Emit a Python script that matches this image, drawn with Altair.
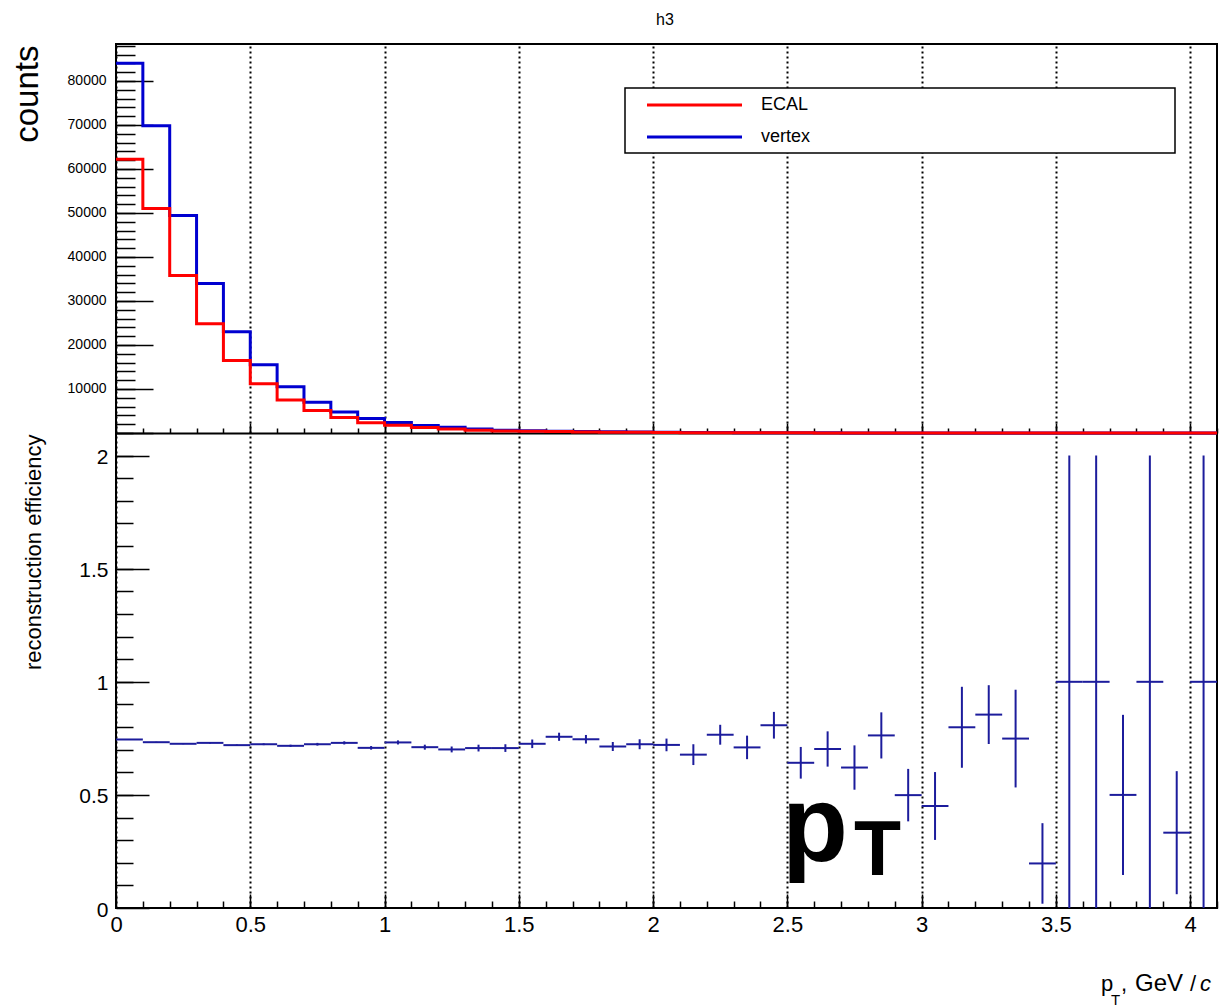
import altair as alt
import pandas as pd

# ---------------- data ----------------
pt_edges = [0.0, 0.1, 0.2, 0.3, 0.4, 0.5, 0.6, 0.7, 0.8, 0.9,
            1.0, 1.1, 1.2, 1.3, 1.4, 1.5, 1.6, 1.7, 1.8, 1.9,
            2.0, 2.1, 2.2, 2.3, 2.4, 2.5, 2.6, 2.7, 2.8, 2.9,
            3.0, 3.1, 3.2, 3.3, 3.4, 3.5, 3.6, 3.7, 3.8, 3.9,
            4.0, 4.1]

counts_vertex = [84000, 69800, 49400, 34000, 23000, 15500, 10500, 7000, 4800, 3300,
                 2400, 1730, 1280, 900, 650, 520, 420, 330, 260, 200,
                 160, 110, 93, 76, 58, 47, 34, 24, 17, 18,
                 11, 5, 7, 4, 5, 1, 1, 2, 1, 3,
                 1]

counts_ecal = [62200, 51000, 35800, 24800, 16500, 11200, 7500, 5100, 3500, 2350,
               1750, 1230, 900, 640, 460, 380, 320, 250, 185, 145,
               115, 75, 71, 54, 47, 30, 24, 15, 13, 9,
               5, 4, 6, 3, 1, 1, 1, 1, 1, 1,
               1]

efficiency = [0.745, 0.733, 0.726, 0.730, 0.720, 0.724, 0.717, 0.724, 0.730, 0.708,
              0.732, 0.711, 0.701, 0.707, 0.707, 0.726, 0.757, 0.746, 0.714, 0.724,
              0.721, 0.678, 0.766, 0.710, 0.808, 0.642, 0.703, 0.621, 0.763, 0.499,
              0.451, 0.799, 0.855, 0.749, 0.197, 1.0, 1.0, 0.5, 1.0, 0.333,
              1.0]

efficiency_err = [0.002, 0.002, 0.002, 0.003, 0.003, 0.004, 0.005, 0.006, 0.007, 0.008,
                  0.009, 0.011, 0.013, 0.015, 0.017, 0.019, 0.018, 0.019, 0.020, 0.022,
                  0.028, 0.046, 0.044, 0.052, 0.059, 0.070, 0.078, 0.098, 0.102, 0.116,
                  0.150, 0.179, 0.130, 0.216, 0.178, 1.0, 1.0, 0.354, 1.0, 0.272,
                  1.0]

x_major = [0, 0.5, 1, 1.5, 2, 2.5, 3, 3.5, 4]
x_minor = [round(0.1 * i, 1) for i in range(1, 42)]
y_top_labels = [10000, 20000, 30000, 40000, 50000, 60000, 70000, 80000]
y_top_major = [0] + y_top_labels
y_top_minor = [2000 * i for i in range(1, 45)]
y_bot_labels = [0, 0.5, 1, 1.5, 2]
y_bot_minor = [round(0.1 * i, 1) for i in range(1, 22)]

series_names = ["ECAL", "vertex"]
series_colors = ["#ff0000", "#0000d0"]
eff_color = "#1c1c9c"

# ---------------- tables ----------------
hist = pd.DataFrame({
    "pt": pt_edges,
    "vertex": counts_vertex + [counts_vertex[-1]],
    "ecal": counts_ecal + [counts_ecal[-1]],
})
eff_df = pd.DataFrame({
    "lo": pt_edges[:-1],
    "hi": pt_edges[1:],
    "eff": efficiency,
    "err": efficiency_err,
})
eff_df["mid"] = (eff_df["lo"] + eff_df["hi"]) / 2
eff_df["elo"] = (eff_df["eff"] - eff_df["err"]).clip(lower=0)
eff_df["ehi"] = eff_df["eff"] + eff_df["err"]

W, H, TOPH = 1101, 864, 389
FONT = "Liberation Sans"

XS = alt.Scale(domain=[0, 4.1], nice=False, zero=False)
YT = alt.Scale(domain=[0, 88400], range=[TOPH, 0], nice=False, zero=False)
YB = alt.Scale(domain=[0, 2.1], range=[H, TOPH], nice=False, zero=False)


def tick_axis(orient, offset, values, size, domain=False):
    return alt.Axis(orient=orient, offset=offset, values=values, tickSize=size,
                    tickWidth=1.5, tickColor="black", labels=False, domain=domain,
                    domainColor="black", domainWidth=2, grid=False, title=None)


x_label_axis = alt.Axis(orient="bottom", values=x_major, format="~g", labelFontSize=22,
                        labelPadding=6, labelFlush=False, labelOverlap=False,
                        ticks=False, tickSize=0, domain=False, grid=True,
                        gridColor="black", gridDash=[2, 3], gridWidth=2,
                        title=None, labelColor="black")

y_top_label_axis = alt.Axis(orient="left", values=y_top_labels, format="d",
                            labelFontSize=14, labelPadding=10, ticks=False, tickSize=0,
                            domain=False, grid=False, labelColor="black",
                            title="counts", titleFontSize=33, titleFontWeight="normal",
                            titleAngle=270, titleAlign="right", titleBaseline="alphabetic",
                            titleX=-79, titleY=1, titleColor="black")

y_bot_label_axis = alt.Axis(orient="left", values=y_bot_labels, format="~g",
                            labelFontSize=21, labelPadding=8, labelOffset=2,
                            ticks=False, tickSize=0, domain=False, grid=False,
                            labelColor="black",
                            title="reconstruction efficiency", titleFontSize=22,
                            titleFontWeight="normal", titleAngle=270, titleAlign="right",
                            titleBaseline="alphabetic", titleX=-76, titleY=390,
                            titleColor="black")

base_h = alt.Chart(hist)
base_e = alt.Chart(eff_df)

# x-axis labels + dotted grid over the full height (layer without a y scale)
grid_layer = base_h.mark_point(opacity=0).encode(
    x=alt.X("pt:Q", scale=XS, axis=x_label_axis),
    y=alt.value(0),
)
vertex_line = base_h.mark_line(interpolate="step-after", strokeWidth=3,
                               color=series_colors[1]).encode(
    x=alt.X("pt:Q", scale=XS, axis=None),
    y=alt.Y("vertex:Q", scale=YT, axis=y_top_label_axis),
)
ecal_line = base_h.mark_line(interpolate="step-after", strokeWidth=3,
                             color=series_colors[0]).encode(
    x=alt.X("pt:Q", scale=XS, axis=tick_axis("top", -TOPH, x_major, 10, domain=True)),
    y=alt.Y("ecal:Q", scale=YT, axis=tick_axis("right", -W, y_top_major, 37)),
)
top_ticks = base_h.mark_point(opacity=0).encode(
    x=alt.X("pt:Q", scale=XS, axis=tick_axis("top", -TOPH, x_minor, 5)),
    y=alt.Y("vertex:Q", scale=YT, axis=tick_axis("right", -W, y_top_minor, 19)),
)

eff_h = base_e.mark_rule(strokeWidth=2, color=eff_color).encode(
    x=alt.X("lo:Q", scale=XS, axis=tick_axis("top", -H, x_major, 14)),
    x2="hi:Q",
    y=alt.Y("eff:Q", scale=YB, axis=y_bot_label_axis),
)
eff_v = base_e.mark_rule(strokeWidth=2, color=eff_color).encode(
    x=alt.X("mid:Q", scale=XS, axis=tick_axis("top", -H, x_minor, 7)),
    y=alt.Y("elo:Q", scale=YB, axis=tick_axis("right", -W, y_bot_labels, 33)),
    y2="ehi:Q",
)
bot_ticks = base_e.mark_point(opacity=0).encode(
    x=alt.X("mid:Q", scale=XS, axis=None),
    y=alt.Y("eff:Q", scale=YB, axis=tick_axis("right", -W, y_bot_minor, 17)),
)

# ---------------- legend (box, lines, labels) ----------------
one = alt.Chart(pd.DataFrame({"k": [0]}))
legend_box = one.mark_rect(fill="white", stroke="black", strokeWidth=1.5).encode(
    x=alt.value(509), x2=alt.value(1059), y=alt.value(44), y2=alt.value(109))
legend_l1 = one.mark_rule(color=series_colors[0], strokeWidth=3).encode(
    x=alt.value(531), x2=alt.value(626), y=alt.value(61))
legend_l2 = one.mark_rule(color=series_colors[1], strokeWidth=3).encode(
    x=alt.value(531), x2=alt.value(626), y=alt.value(93))
legend_t1 = one.mark_text(text=series_names[0], font=FONT, fontSize=18, align="left",
                          baseline="middle", color="black").encode(
    x=alt.value(645), y=alt.value(61))
legend_t2 = one.mark_text(text=series_names[1], font=FONT, fontSize=18, align="left",
                          baseline="middle", color="black").encode(
    x=alt.value(645), y=alt.value(93))

# ---------------- title h3 ----------------
title_h3 = one.mark_text(text="h3", font=FONT, fontSize=16, align="center",
                         baseline="alphabetic", color="black").encode(
    x=alt.value(549), y=alt.value(-19))

# ---------------- big pT label inside the lower pad ----------------
big_p = one.mark_text(text="p", font=FONT, fontSize=108, fontWeight="bold", align="left",
                      baseline="alphabetic", color="black").encode(
    x=alt.value(666), y=alt.value(817))
big_T = one.mark_text(text="T", font=FONT, fontSize=77, fontWeight="bold", align="left",
                      baseline="alphabetic", color="black").encode(
    x=alt.value(738), y=alt.value(831))

# ---------------- x-axis title  p_T, GeV/c ----------------
xt_p = one.mark_text(text="p", font=FONT, fontSize=22, align="left",
                     baseline="alphabetic", color="black").encode(
    x=alt.value(985), y=alt.value(947))
xt_T = one.mark_text(text="T", font=FONT, fontSize=15, align="left",
                     baseline="alphabetic", color="black").encode(
    x=alt.value(995), y=alt.value(961))
xt_c1 = one.mark_text(text=",", font=FONT, fontSize=22, align="left",
                      baseline="alphabetic", color="black").encode(
    x=alt.value(1005), y=alt.value(947))
xt_gev = one.mark_text(text="GeV", font=FONT, fontSize=24, align="left",
                       baseline="alphabetic", color="black").encode(
    x=alt.value(1019), y=alt.value(947))
xt_sl = one.mark_text(text="/", font=FONT, fontSize=22, align="left",
                      baseline="alphabetic", color="black").encode(
    x=alt.value(1074), y=alt.value(947))
xt_c = one.mark_text(text="c", font=FONT, fontSize=22, fontStyle="italic", align="left",
                     baseline="alphabetic", color="black").encode(
    x=alt.value(1084), y=alt.value(947))

chart = alt.layer(
    grid_layer, vertex_line, ecal_line, top_ticks, eff_h, eff_v, bot_ticks,
    legend_box, legend_l1, legend_l2, legend_t1, legend_t2, title_h3,
    big_p, big_T, xt_p, xt_T, xt_c1, xt_gev, xt_sl, xt_c,
).resolve_scale(
    y="independent"
).resolve_axis(
    x="independent", y="independent"
).properties(
    width=W, height=H,
    autosize=alt.AutoSizeParams(type="none"),
    padding={"left": 116, "top": 44, "right": 6, "bottom": 99},
).configure(
    font=FONT,
).configure_axis(
    labelFont=FONT, titleFont=FONT,
).configure_view(
    stroke="black", strokeWidth=2,
)

chart.save("out.html", embed_options={"renderer": "svg", "actions": False})
